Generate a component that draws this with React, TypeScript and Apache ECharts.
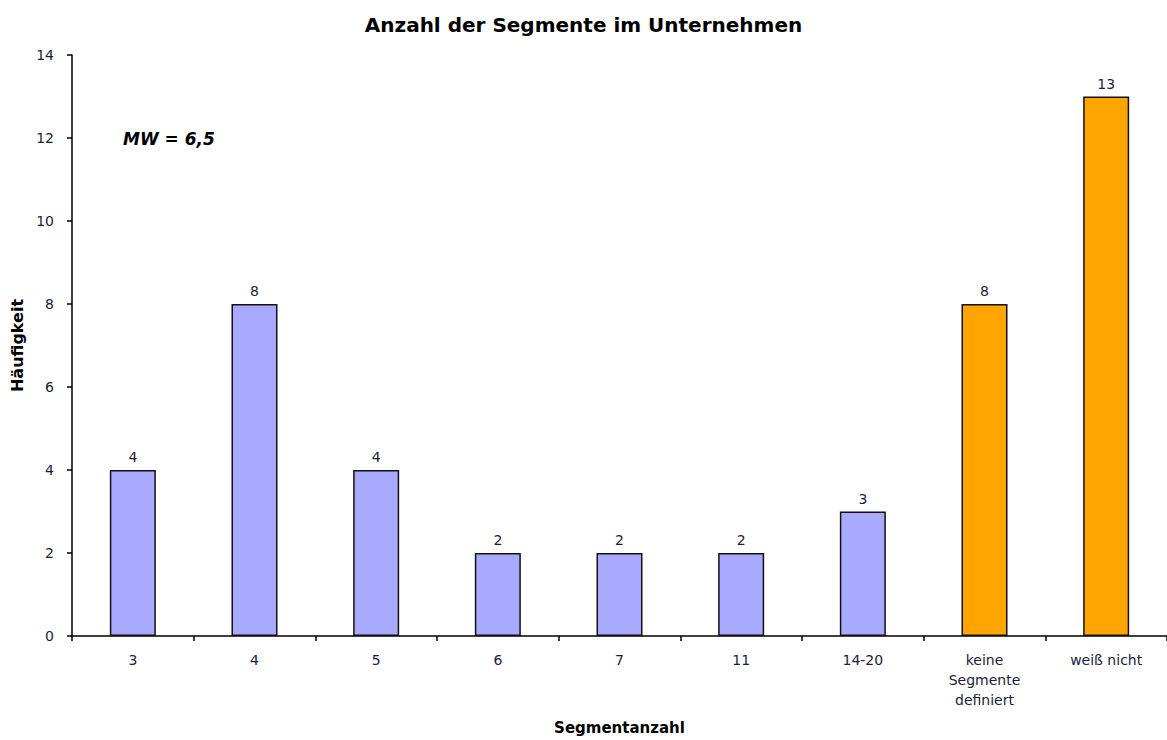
import React, { useEffect, useRef } from "react";
import * as echarts from "echarts";

// Segment count categories and the number of companies per category
const categories = ["3", "4", "5", "6", "7", "11", "14-20", "keine\nSegmente\ndefiniert", "weiß nicht"];
const counts = [4, 8, 4, 2, 2, 2, 3, 8, 13];
// Which bars are "other" answers (no number given)
const isOtherAnswer = [false, false, false, false, false, false, false, true, true];
const yTicks = [0, 2, 4, 6, 8, 10, 12, 14];

const FONT = "DejaVu Sans";
const BLUE = "#A9AAFF";
const ORANGE = "#FFA500";
const TEXT = "#1c1c3a";

export default function App() {
  const ref = useRef<HTMLDivElement>(null);

  useEffect(() => {
    document.body.style.margin = "0";
    const chart = echarts.init(ref.current!, undefined, { renderer: "svg" });
    chart.setOption({
      animation: false,
      backgroundColor: "#ffffff",
      title: {
        text: "Anzahl der Segmente im Unternehmen",
        left: "center",
        top: 10,
        textStyle: { fontFamily: FONT, fontSize: 20, fontWeight: "bold", color: "#000" },
      },
      grid: { left: 72, right: 0, top: 55, bottom: 99, containLabel: false },
      xAxis: {
        type: "category",
        data: categories,
        name: "Segmentanzahl",
        nameLocation: "middle",
        nameGap: 84,
        nameTextStyle: { fontFamily: FONT, fontSize: 15, fontWeight: "bold", color: "#000" },
        axisLine: { lineStyle: { color: "#000", width: 1.5 } },
        axisTick: { show: true, alignWithLabel: false, length: 5, lineStyle: { color: "#000", width: 1.5 } },
        axisLabel: {
          fontFamily: FONT,
          fontSize: 14,
          color: TEXT,
          margin: 14,
          lineHeight: 20,
          interval: 0,
        },
      },
      yAxis: {
        type: "value",
        min: yTicks[0],
        max: yTicks[yTicks.length - 1],
        interval: 2,
        name: "Häufigkeit",
        nameLocation: "middle",
        nameGap: 46,
        nameTextStyle: { fontFamily: FONT, fontSize: 16, fontWeight: "bold", color: "#000" },
        axisLine: { show: true, lineStyle: { color: "#000", width: 1.5 } },
        axisTick: { show: true, length: 5, lineStyle: { color: "#000", width: 1.5 } },
        splitLine: { show: false },
        axisLabel: { fontFamily: FONT, fontSize: 14, color: TEXT, margin: 18 },
      },
      graphic: [
        {
          type: "text",
          left: 123,
          top: 130,
          style: {
            text: "MW = 6,5",
            fontFamily: FONT,
            fontSize: 17,
            fontWeight: "bold",
            fontStyle: "italic",
            fill: "#000",
          },
        },
      ],
      series: [
        {
          type: "bar",
          barWidth: 46,
          data: counts.map((v, i) => ({
            value: v,
            itemStyle: { color: isOtherAnswer[i] ? ORANGE : BLUE },
          })),
          itemStyle: { borderColor: "#111", borderWidth: 1.5 },
          label: {
            show: true,
            position: "top",
            distance: 6,
            fontFamily: FONT,
            fontSize: 14,
            color: TEXT,
          },
        },
      ],
    });
    return () => chart.dispose();
  }, []);

  return (
    <div
      ref={ref}
      style={{ position: "fixed", left: 0, top: 0, width: 1167, height: 740 }}
    />
  );
}
